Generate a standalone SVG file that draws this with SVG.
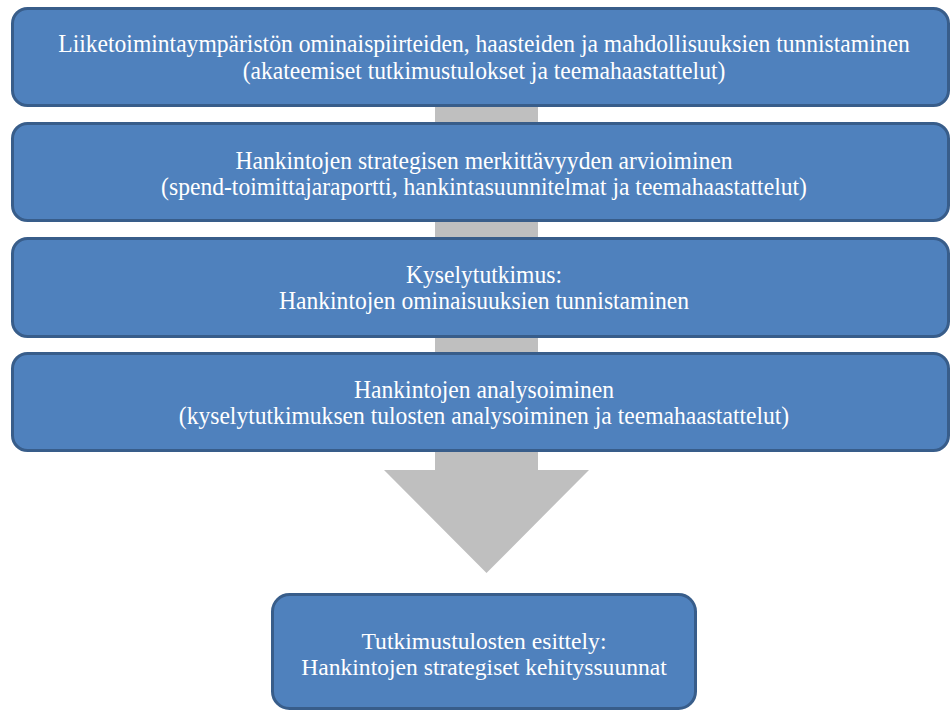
<svg xmlns="http://www.w3.org/2000/svg" width="951" height="711" viewBox="0 0 951 711">
  <style>
    .box { fill: #4f81bd; stroke: #385d8a; stroke-width: 3; }
    .lbl { font-size: 23.6px; fill: #ffffff; text-anchor: middle; }
    .flow { fill: #bfbfbf; stroke: none; }
  </style>
  <rect width="951" height="711" fill="#ffffff"/>
  <g id="connectors">
    <polygon class="flow" points="435,60 538,60 538,470 589,470 486.5,573 384,470 435,470"/>
  </g>
  <g font-family="'Liberation Serif', 'Times New Roman', 'DejaVu Serif', serif">
  <g id="node1">
    <rect class="box" x="12.5" y="8.5" width="936" height="97" rx="15"/>
    <text class="lbl" transform="translate(484 52) scale(1 1.08)">Liiketoimintaympäristön ominaispiirteiden, haasteiden ja mahdollisuuksien tunnistaminen</text>
    <text class="lbl" transform="translate(484 78.5) scale(1 1.08)">(akateemiset tutkimustulokset ja teemahaastattelut)</text>
  </g>
  <g id="node2">
    <rect class="box" x="12.5" y="123.5" width="936" height="97" rx="15"/>
    <text class="lbl" transform="translate(484 168.5) scale(1 1.08)">Hankintojen strategisen merkittävyyden arvioiminen</text>
    <text class="lbl" transform="translate(484 195) scale(1 1.08)">(spend-toimittajaraportti, hankintasuunnitelmat ja teemahaastattelut)</text>
  </g>
  <g id="node3">
    <rect class="box" x="12.5" y="238.5" width="936" height="98" rx="15"/>
    <text class="lbl" transform="translate(484 282.5) scale(1 1.08)">Kyselytutkimus:</text>
    <text class="lbl" transform="translate(484 309) scale(1 1.08)">Hankintojen ominaisuuksien tunnistaminen</text>
  </g>
  <g id="node4">
    <rect class="box" x="12.5" y="353.5" width="936" height="97" rx="15"/>
    <text class="lbl" transform="translate(484 397.5) scale(1 1.08)">Hankintojen analysoiminen</text>
    <text class="lbl" transform="translate(484 424) scale(1 1.08)">(kyselytutkimuksen tulosten analysoiminen ja teemahaastattelut)</text>
  </g>
  <g id="node5">
    <rect class="box" x="272.5" y="594.5" width="423" height="114" rx="17"/>
    <text class="lbl" x="484" y="649">Tutkimustulosten esittely:</text>
    <text class="lbl" x="484" y="675">Hankintojen strategiset kehityssuunnat</text>
  </g>
  </g>
</svg>
